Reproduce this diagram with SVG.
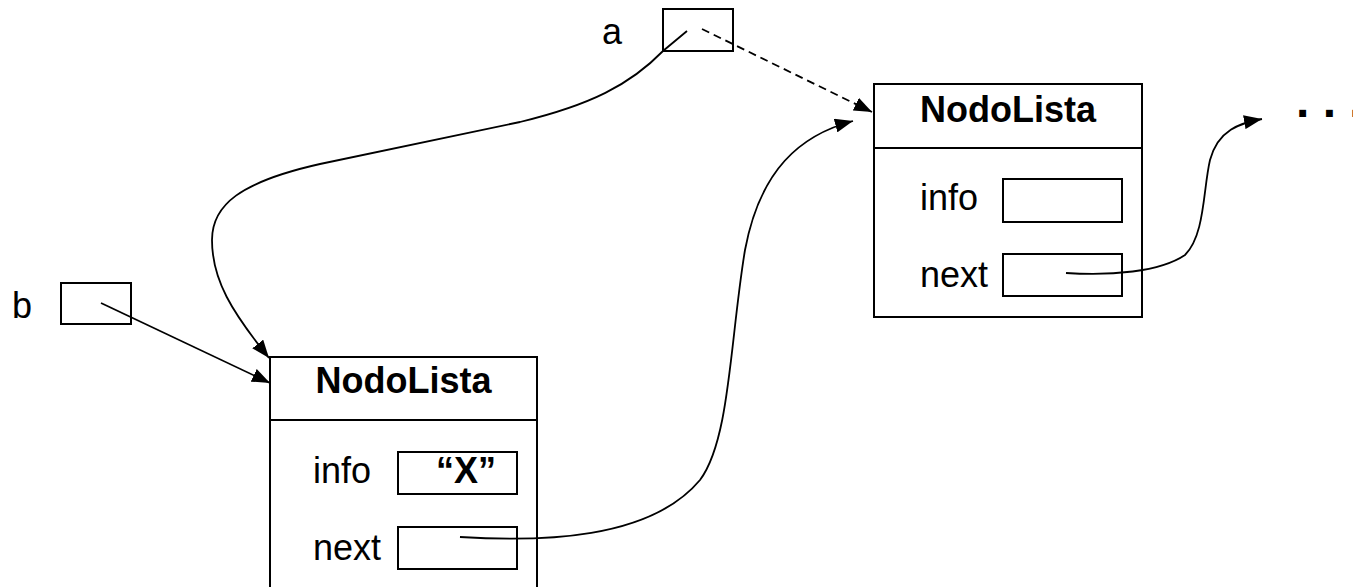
<svg xmlns="http://www.w3.org/2000/svg" width="1353" height="587" viewBox="0 0 1353 587">
  <defs>
    <marker id="arrow" viewBox="0 0 18 14" refX="18" refY="7" markerWidth="18" markerHeight="14" markerUnits="userSpaceOnUse" orient="auto">
      <path d="M0,0 L18,7 L0,14 Z" fill="#000"/>
    </marker>
  </defs>
  <style>
    .box { fill: #fff; stroke: #000; stroke-width: 2; }
    .lbl { font-family: "Liberation Sans", Arial, sans-serif; font-size: 36px; fill: #000; }
    .title { font-family: "Liberation Sans", Arial, sans-serif; font-size: 36px; font-weight: bold; fill: #000; }
    .link { fill: none; stroke: #000; stroke-width: 1.8; marker-end: url(#arrow); }
    .dashed { stroke-dasharray: 8 5; }
  </style>
  <rect width="1353" height="587" fill="#fff"/>

  <!-- pointer variables -->
  <g id="var-a">
    <text class="lbl" x="602" y="44">a</text>
    <rect class="box" x="663" y="9" width="70" height="42"/>
  </g>
  <g id="var-b">
    <text class="lbl" x="12" y="318">b</text>
    <rect class="box" x="61" y="283" width="70" height="41"/>
  </g>

  <!-- first list node (holds "X") -->
  <g id="node-x">
    <rect class="box" x="270" y="357" width="267" height="233"/>
    <line x1="270" y1="420" x2="537" y2="420" stroke="#000" stroke-width="2"/>
    <text class="title" x="403.5" y="393" text-anchor="middle">NodoLista</text>
    <text class="lbl" x="313" y="483">info</text>
    <rect class="box" x="398" y="452" width="119" height="42"/>
    <text class="title" x="436" y="483">“X”</text>
    <text class="lbl" x="313" y="560">next</text>
    <rect class="box" x="398" y="527" width="119" height="42"/>
  </g>

  <!-- second list node -->
  <g id="node-2">
    <rect class="box" x="874" y="84" width="268" height="233"/>
    <line x1="874" y1="148" x2="1142" y2="148" stroke="#000" stroke-width="2"/>
    <text class="title" x="1008" y="122" text-anchor="middle">NodoLista</text>
    <text class="lbl" x="920" y="210">info</text>
    <rect class="box" x="1003" y="179" width="119" height="43"/>
    <text class="lbl" x="920" y="287">next</text>
    <rect class="box" x="1003" y="254" width="119" height="42"/>
  </g>

  <!-- rest of the list -->
  <g id="ellipsis">
    <text class="title" x="1296" y="117" style="font-size:48px">. . .</text>
  </g>

  <!-- references -->
  <g id="connectors">
    <path class="link dashed" d="M702,29 L872,112"/>
    <path class="link" d="M687,31 L663,51 C630,85 590,105 520,122 L320,164 C240,182 212,205 212,240 C212,280 232,312 269,358"/>
    <path class="link" d="M101,303 L270,383"/>
    <path class="link" d="M460,537 C540,542 650,540 700,480 C730,440 730,340 745,250 C760,170 800,135 853,121"/>
    <path class="link" d="M1066,273 C1110,276 1160,272 1185,255 C1205,235 1203,190 1210,160 C1218,130 1240,123 1262,119"/>
  </g>
</svg>
